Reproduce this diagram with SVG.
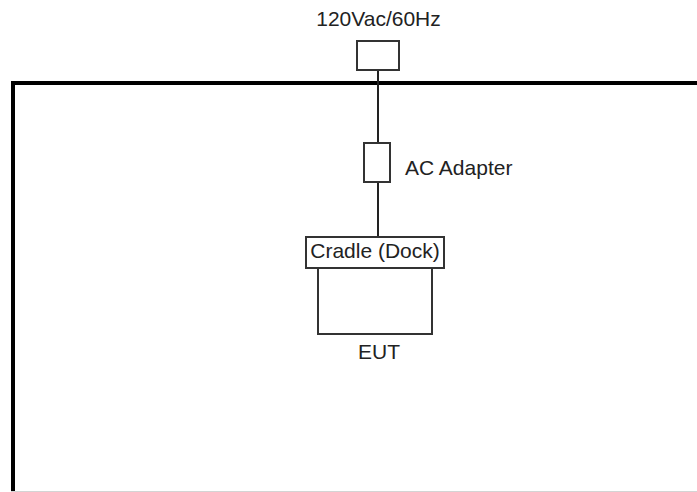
<svg xmlns="http://www.w3.org/2000/svg" width="697" height="492" viewBox="0 0 697 492">
<style>
  .lbl { font-family: "Liberation Sans", Arial, sans-serif; font-size: 21px; fill: #222; }
  .box { fill: #fff; stroke: #333; stroke-width: 2; }
  .wire { stroke: #222; stroke-width: 2; fill: none; }
  .frame { stroke: #000; stroke-width: 4; fill: none; }
</style>
<rect width="697" height="492" fill="#fff"/>
<g id="frame">
  <path class="frame" d="M13,492 V83 H697"/>
  <line x1="11" y1="491.5" x2="697" y2="491.5" stroke="#d4d4d4" stroke-width="1"/>
</g>
<g id="connectors">
  <line class="wire" x1="378" y1="70" x2="378" y2="142"/>
  <line class="wire" x1="378" y1="183" x2="378" y2="237"/>
</g>
<g id="power">
  <rect class="box" x="357" y="41" width="42" height="29"/>
  <text class="lbl" x="378.5" y="26" text-anchor="middle">120Vac/60Hz</text>
</g>
<g id="adapter">
  <rect class="box" x="364" y="143" width="26" height="39"/>
  <text class="lbl" x="405" y="175">AC Adapter</text>
</g>
<g id="eut">
  <rect class="box" x="318" y="268" width="114" height="66"/>
  <text class="lbl" x="379" y="359" text-anchor="middle">EUT</text>
</g>
<g id="cradle">
  <rect class="box" x="306" y="237" width="138" height="31"/>
  <text class="lbl" x="375" y="258" text-anchor="middle">Cradle (Dock)</text>
</g>
</svg>
